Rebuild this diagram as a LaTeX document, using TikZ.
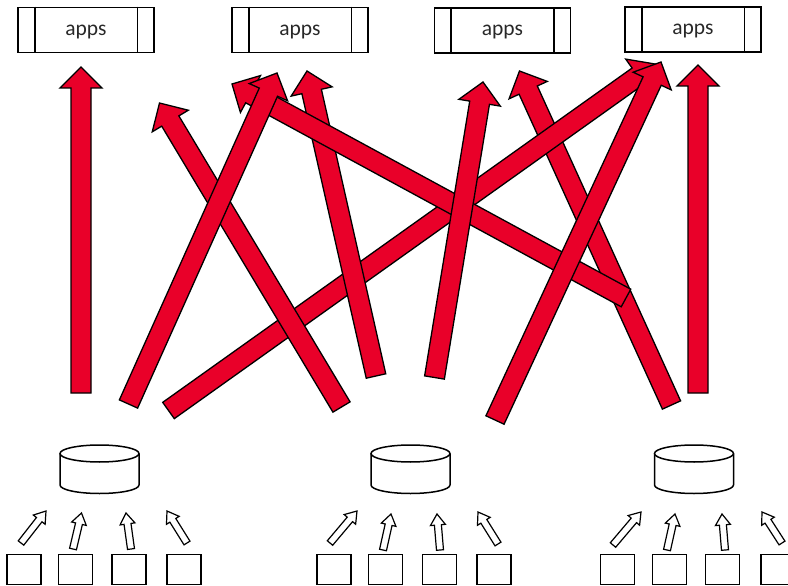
\documentclass[tikz,border=0pt]{standalone}
\usepackage{fontspec}
\setmainfont{Carlito}
\usetikzlibrary{calc}
\definecolor{arrowred}{RGB}{233,0,41}
\definecolor{apptext}{RGB}{40,40,40}
\tikzset{
  appbox/.style={draw, line width=1.7pt, minimum width=136pt, minimum height=45pt, inner sep=0pt,
    text depth=0pt, font=\fontsize{21.5}{25}\selectfont, text=apptext},
  srcbox/.style={draw, line width=1.5pt, minimum width=34pt, minimum height=30pt, inner sep=0pt},
  bigarrow/.style={draw=black, fill=arrowred, line width=1.3pt, line join=miter},
  smallarrow/.style={draw=black, fill=white, line width=1.2pt, line join=miter},
  cyl/.style={draw, fill=white, line width=1.5pt},
  sidebar/.style={draw, line width=1.7pt}
}
% style, tail, tip, shaft half width, head half width, head length
\newcommand\blockarrow[6]{%
  \coordinate (bhtmp) at ($(#3)!#6!(#2)$);
  \draw[#1] ($(#2)!#4!90:(#3)$) -- ($(bhtmp)!#4!90:(#3)$) -- ($(bhtmp)!#5!90:(#3)$) -- (#3)
    -- ($(bhtmp)!#5!-90:(#3)$) -- ($(bhtmp)!#4!-90:(#3)$) -- ($(#2)!#4!-90:(#3)$) -- cycle;
}
\newcommand\bigarr[2]{\blockarrow{bigarrow}{#1}{#2}{10pt}{21pt}{21pt}}
\newcommand\smallarr[2]{\blockarrow{smallarrow}{#1}{#2}{3.5pt}{7.5pt}{11pt}}
\newcommand\dbcyl[2]{% name, center x
  \coordinate (#1) at (#2,-469);
  \draw[cyl] (#2-39.5,-453.5) -- (#2-39.5,-485)
     arc[start angle=180, end angle=360, x radius=39.5pt, y radius=8.5pt]
     -- (#2+39.5,-453.5);
  \draw[cyl] (#2,-453.5) ellipse [x radius=39.5pt, y radius=8.5pt];
}
\begin{document}
\begin{tikzpicture}[x=1pt,y=1pt]
\useasboundingbox (0,0) rectangle (788,-586);
\clip (0,0) rectangle (788,-586);

% apps boxes
\foreach \n/\x/\y in {1/86/-30, 2/300/-30, 3/502.5/-30.5, 4/693/-29.5}{
  \node[appbox] (app\n) at (\x,\y) {apps};
  \draw[sidebar] ($(app\n.north west)+(17.5,0)$) -- ($(app\n.south west)+(17.5,0)$);
  \draw[sidebar] ($(app\n.north east)+(-17.5,0)$) -- ($(app\n.south east)+(-17.5,0)$);
}

% big arrows: tails and tips
\coordinate (t1) at (81,-393);    \coordinate (h1) at (81,-67);
\coordinate (t2) at (128.5,-404); \coordinate (h2) at (277,-73);
\coordinate (t3) at (341.5,-407); \coordinate (h3) at (159.5,-103);
\coordinate (t4) at (376,-376);   \coordinate (h4) at (307,-71);
\coordinate (t5) at (626,-298);   \coordinate (h5) at (232,-84);
\coordinate (t6) at (168.5,-410.5); \coordinate (h6) at (655,-64);
\coordinate (t7) at (434.5,-377.5); \coordinate (h7) at (483,-82);
\coordinate (t8) at (671.5,-405); \coordinate (h8) at (519.5,-71);
\coordinate (t9) at (495,-420);   \coordinate (h9) at (661,-62);
\coordinate (t10) at (698,-393);  \coordinate (h10) at (698,-65);

\bigarr{t8}{h8}
\bigarr{t6}{h6}
\bigarr{t4}{h4}
\bigarr{t3}{h3}
\bigarr{t5}{h5}
\bigarr{t2}{h2}
\bigarr{t7}{h7}
\bigarr{t9}{h9}
\bigarr{t1}{h1}
\bigarr{t10}{h10}

% databases
\dbcyl{db1}{99.5}
\dbcyl{db2}{410.5}
\dbcyl{db3}{694}

% source boxes
\foreach \n/\x in {1/24, 2/75.5, 3/129, 4/184, 5/334, 6/385.5, 7/439.5, 8/494, 9/617.5, 10/669.5, 11/722.5, 12/778}{
  \node[srcbox] (s\n) at (\x,-569.5) {};
}

% small arrows
\foreach \n/\tx/\ty/\hx/\hy in {
  1/21/-543/46/-511, 2/73/-549/81.5/-513, 3/131/-549/126/-513, 4/187/-543/167/-511,
  5/330/-543/357/-511, 6/383/-550/391/-514, 7/440/-550/437/-514, 8/498/-544/478/-512,
  9/613/-545/641/-512, 10/667/-550/675/-514, 11/725/-550/722/-514, 12/782/-543/762/-512}{
  \coordinate (st\n) at (\tx,\ty);
  \coordinate (sh\n) at (\hx,\hy);
  \smallarr{st\n}{sh\n}
}
\end{tikzpicture}
\end{document}
